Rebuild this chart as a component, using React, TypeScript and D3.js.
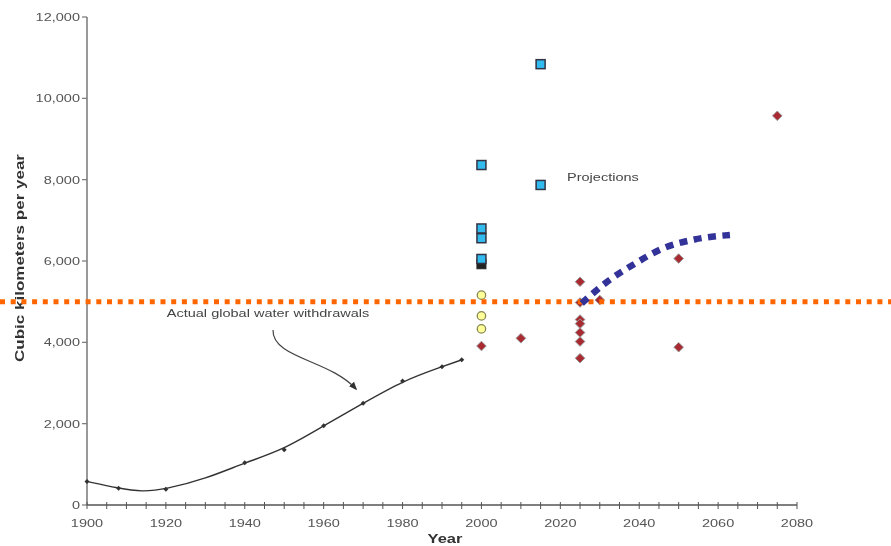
import React from "react";
import * as d3 from "d3";

const W = 891;
const H = 546;

const xTickLabels = [1900, 1920, 1940, 1960, 1980, 2000, 2020, 2040, 2060, 2080];
const yTickLabels = [0, 2000, 4000, 6000, 8000, 10000, 12000];

// Actual global water withdrawals (year, km3)
const histYears = [1900, 1908, 1914, 1920, 1930, 1940, 1950, 1960, 1970, 1980, 1990, 1995];
const histValues = [580, 410, 320, 390, 640, 1040, 1370, 1950, 2500, 3050, 3400, 3570];
const histMarkerYears = [1900, 1908, 1920, 1940, 1950, 1960, 1970, 1980, 1990, 1995];
const histMarkerValues = [580, 410, 390, 1040, 1360, 1950, 2500, 3050, 3400, 3570];

// Projections
const blueYears = [2000, 2000, 2000, 2000, 2015, 2015];
const blueValues = [8360, 6800, 6560, 6050, 7870, 10840];
const blackYears = [2000];
const blackValues = [5920];
const yellowYears = [2000, 2000, 2000];
const yellowValues = [5160, 4650, 4330];
const redYears = [2000, 2010, 2025, 2025, 2025, 2025, 2025, 2025, 2025, 2030, 2050, 2050, 2075];
const redValues = [3910, 4100, 5490, 4980, 4560, 4460, 4240, 4020, 3610, 5040, 6060, 3880, 9570];

// Dashed blue trend
const trendYears = [2025.4, 2032, 2039, 2046, 2054, 2063];
const trendValues = [4960, 5500, 5940, 6310, 6530, 6640];

const thresholdValue = 5000;

const font = "'Liberation Sans', Arial, sans-serif";
const labelColor = "#555";
const SX = 1.32;

function SText(props: {
  x: number;
  y: number;
  anchor?: "start" | "middle" | "end";
  size?: number;
  weight?: string;
  fill?: string;
  children: React.ReactNode;
}) {
  const { x, y, anchor = "start", size = 11, weight = "normal", fill = labelColor, children } = props;
  return (
    <text
      transform={`translate(${x},${y}) scale(${SX},1)`}
      textAnchor={anchor}
      fontSize={size}
      fontWeight={weight}
      fill={fill}
    >
      {children}
    </text>
  );
}

export default function App() {
  const x = d3.scaleLinear().domain([1900, 2080]).range([87, 797]);
  const y = d3.scaleLinear().domain([0, 12000]).range([505, 17]);

  const histLine = d3
    .line<number>()
    .x((_, i) => x(histYears[i]))
    .y((d) => y(d))
    .curve(d3.curveBasis);

  const trendLine = d3
    .line<number>()
    .x((_, i) => x(trendYears[i]))
    .y((d) => y(d))
    .curve(d3.curveMonotoneX);

  const minorTicks = d3.range(1900, 2081, 5);

  const diamond = (cx: number, cy: number, r: number) =>
    `M${cx},${cy - r}L${cx + r},${cy}L${cx},${cy + r}L${cx - r},${cy}Z`;

  return (
    <svg
      width={W}
      height={H}
      style={{ position: "absolute", left: 0, top: 0, background: "#fff" }}
      fontFamily={font}
    >
      <defs>
        <filter id="soft" x="-5%" y="-5%" width="110%" height="110%">
          <feGaussianBlur stdDeviation="0.5" />
        </filter>
        <marker id="arrow" viewBox="0 0 10 10" refX="8" refY="5" markerWidth="7" markerHeight="7" orient="auto">
          <path d="M0,1 L10,5 L0,9 Z" fill="#333" />
        </marker>
      </defs>
      <g filter="url(#soft)">
        {/* axes */}
        <line x1={x(1900)} x2={x(1900)} y1={y(0)} y2={y(12000)} stroke="#777" strokeWidth={1.5} />
        <line x1={x(1900)} x2={x(2080)} y1={y(0)} y2={y(0)} stroke="#555" strokeWidth={1.5} />
        {yTickLabels.map((v) => (
          <g key={v}>
            <line x1={x(1900) - 5} x2={x(1900)} y1={y(v)} y2={y(v)} stroke="#777" strokeWidth={1.2} />
            <SText x={x(1900) - 7} y={y(v) + 4} anchor="end">
              {d3.format(",")(v)}
            </SText>
          </g>
        ))}
        {minorTicks.map((t) => (
          <line key={t} x1={x(t)} x2={x(t)} y1={y(0) - 3} y2={y(0) + 4} stroke="#555" strokeWidth={1} />
        ))}
        {xTickLabels.map((t) => (
          <SText key={t} x={x(t)} y={527} anchor="middle">
            {t}
          </SText>
        ))}
        <SText x={445} y={543} anchor="middle" size={12.5} weight="bold" fill="#333">
          Year
        </SText>
        <text
          transform={`translate(24,258) rotate(-90)`}
          textAnchor="middle"
          fontSize={13}
          fontWeight="bold"
          fill="#333"
          textLength={208}
          lengthAdjust="spacingAndGlyphs"
        >
          Cubic kilometers per year
        </text>

        {/* historic line */}
        <path d={histLine(histValues) || ""} fill="none" stroke="#333" strokeWidth={1.4} />
        {histMarkerYears.map((yr, i) => (
          <path key={yr} d={diamond(x(yr), y(histMarkerValues[i]), 2.5)} fill="#333" />
        ))}

        {/* annotation */}
        <SText x={268} y={317} anchor="middle" fill="#444">
          Actual global water withdrawals
        </SText>
        <path
          d="M273,330 C272,358 330,360 356,389"
          fill="none"
          stroke="#444"
          strokeWidth={1.2}
          markerEnd="url(#arrow)"
        />
        <SText x={567} y={181} fill="#444">
          Projections
        </SText>

        {/* projection markers */}
        {blackYears.map((yr, i) => (
          <rect key={"k" + i} x={x(yr) - 4.5} y={y(blackValues[i]) - 4.5} width={9} height={9} fill="#222" stroke="#222" />
        ))}
        {blueYears.map((yr, i) => (
          <rect
            key={"b" + i}
            x={x(yr) - 4.5}
            y={y(blueValues[i]) - 4.5}
            width={9}
            height={9}
            fill="#33bbee"
            stroke="#334"
            strokeWidth={1.5}
          />
        ))}
        {yellowYears.map((yr, i) => (
          <circle
            key={"y" + i}
            cx={x(yr)}
            cy={y(yellowValues[i])}
            r={4.2}
            fill="#ffff99"
            stroke="#888855"
            strokeWidth={1.3}
          />
        ))}
        {redYears.map((yr, i) => (
          <path
            key={"r" + i}
            d={diamond(x(yr), y(redValues[i]), 4.8)}
            fill="#aa2a33"
            stroke="#999"
            strokeWidth={1}
          />
        ))}

        {/* threshold line */}
        <line
          x1={0}
          x2={W}
          y1={y(thresholdValue)}
          y2={y(thresholdValue)}
          stroke="#ff6600"
          strokeWidth={5}
          strokeDasharray="5,5.7"
        />
        {/* trend */}
        <path
          d={trendLine(trendValues) || ""}
          fill="none"
          stroke="#333399"
          strokeWidth={6.5}
          strokeDasharray="8,6.5"
        />
      </g>
    </svg>
  );
}
